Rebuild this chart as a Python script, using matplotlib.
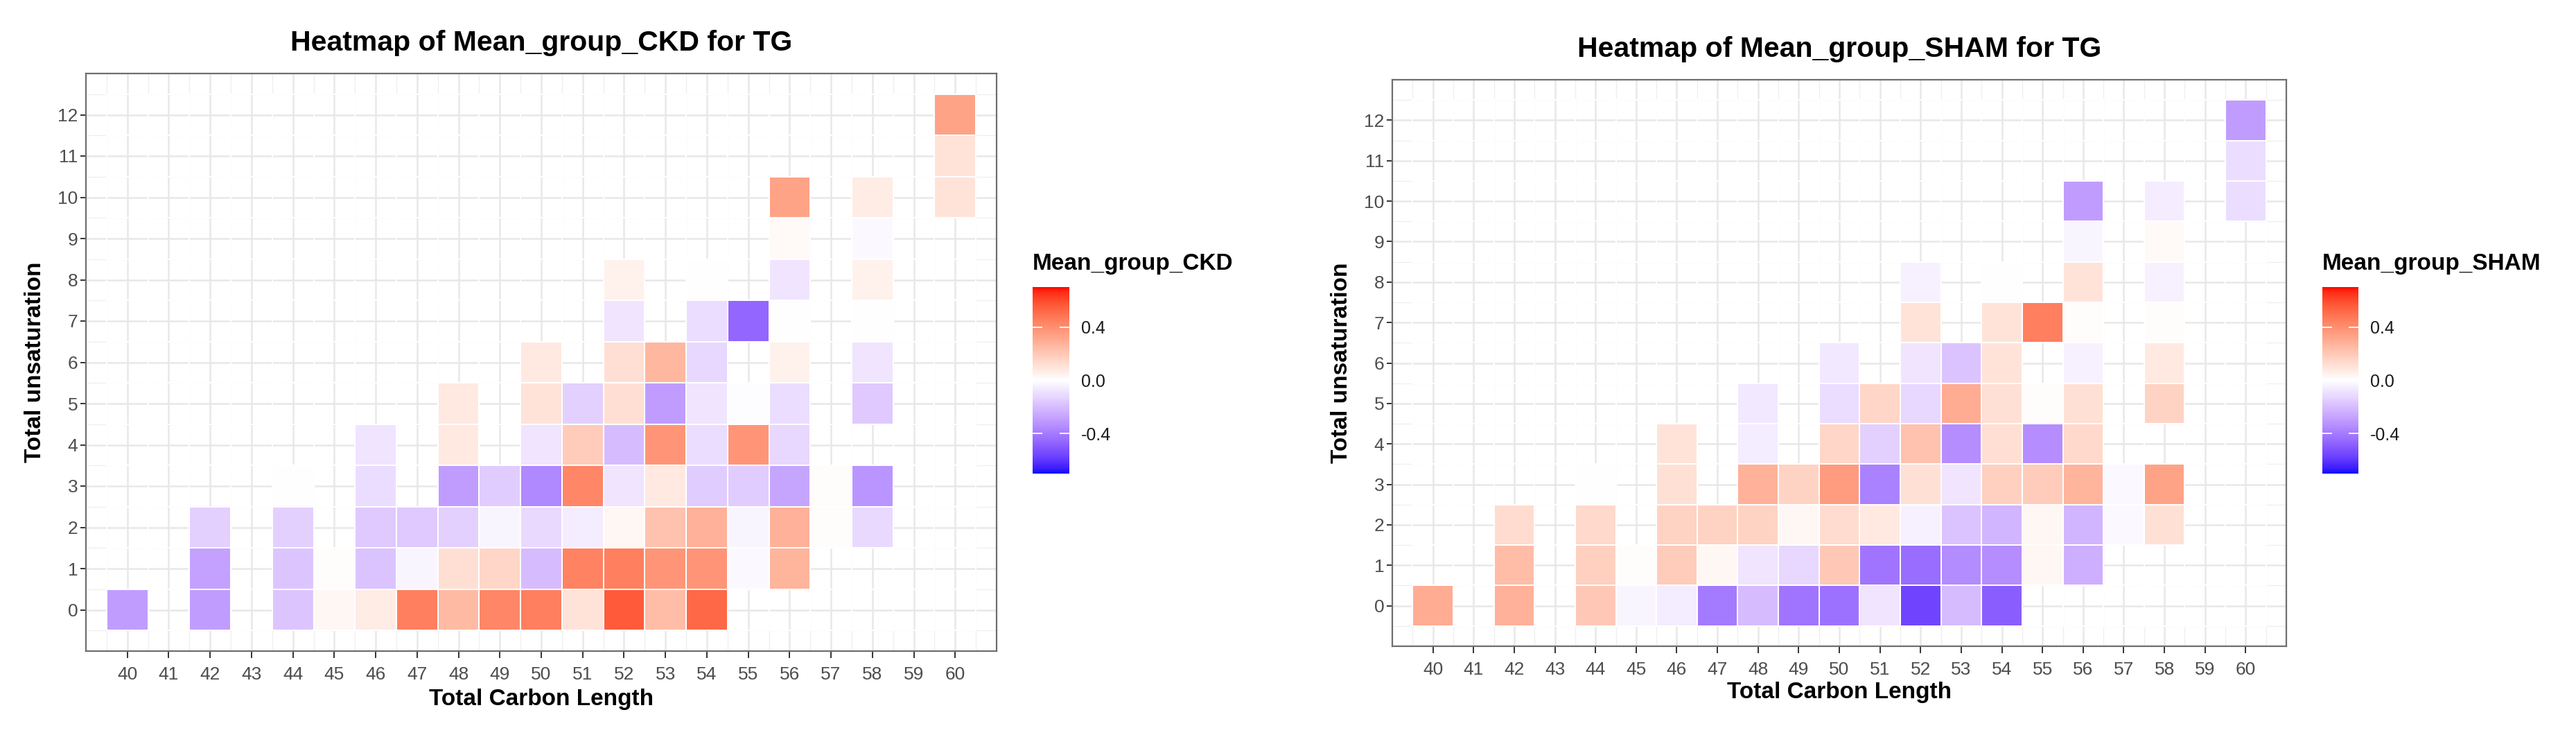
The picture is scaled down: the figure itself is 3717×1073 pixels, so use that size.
import numpy as np
import matplotlib
matplotlib.use("Agg")
import matplotlib.pyplot as plt
from matplotlib.colors import ListedColormap, Normalize


# TG species: total carbon length / total unsaturation, one entry per tile
carbon_length = [
    40, 42, 44, 45, 46, 47, 48, 49, 50, 51, 52, 53, 54,          # 0 double bonds
    42, 44, 45, 46, 47, 48, 49, 50, 51, 52, 53, 54, 55, 56,      # 1
    42, 44, 46, 47, 48, 49, 50, 51, 52, 53, 54, 55, 56, 57, 58,  # 2
    44, 46, 48, 49, 50, 51, 52, 53, 54, 55, 56, 57, 58,          # 3
    46, 48, 50, 51, 52, 53, 54, 55, 56,                          # 4
    48, 50, 51, 52, 53, 54, 55, 56, 58,                          # 5
    50, 52, 53, 54, 56, 58,                                      # 6
    52, 54, 55, 56, 58,                                          # 7
    52, 54, 56, 58,                                              # 8
    56, 58,                                                      # 9
    56, 58, 60,                                                  # 10
    60,                                                          # 11
    60,                                                          # 12
]
unsaturation = ([0] * 13 + [1] * 14 + [2] * 15 + [3] * 13 + [4] * 9 + [5] * 9
                + [6] * 6 + [7] * 5 + [8] * 4 + [9] * 2 + [10] * 3 + [11] + [12])

mean_group_ckd = [
    -0.30, -0.30, -0.17, 0.03, 0.07, 0.45, 0.25, 0.43, 0.45, 0.10, 0.56, 0.24, 0.52,
    -0.28, -0.17, 0.01, -0.18, -0.03, 0.12, 0.15, -0.20, 0.44, 0.45, 0.38, 0.38, -0.02, 0.27,
    -0.14, -0.14, -0.16, -0.16, -0.14, -0.03, -0.11, -0.06, 0.03, 0.22, 0.28, -0.03, 0.28, 0.01, -0.11,
    0.00, -0.10, -0.30, -0.15, -0.36, 0.43, -0.08, 0.08, -0.15, -0.15, -0.27, 0.01, -0.32,
    -0.08, 0.08, -0.08, 0.19, -0.20, 0.38, -0.10, 0.38, -0.12,
    0.08, 0.10, -0.14, 0.12, -0.30, -0.08, -0.01, -0.10, -0.16,
    0.08, 0.12, 0.26, -0.12, 0.05, -0.08,
    -0.08, -0.10, -0.46, 0.00, 0.00,
    0.05, 0.00, -0.08, 0.05,
    0.02, -0.02,
    0.33, 0.07, 0.10,
    0.10,
    0.33,
]
mean_group_sham = [
    0.30, 0.28, 0.20, -0.03, -0.06, -0.40, -0.20, -0.42, -0.43, -0.08, -0.56, -0.20, -0.49,
    0.24, 0.17, 0.01, 0.19, 0.03, -0.08, -0.12, 0.20, -0.42, -0.44, -0.35, -0.34, 0.03, -0.24,
    0.13, 0.14, 0.16, 0.16, 0.16, 0.03, 0.13, 0.08, -0.04, -0.18, -0.22, 0.03, -0.22, -0.02, 0.11,
    0.00, 0.11, 0.28, 0.16, 0.36, -0.38, 0.11, -0.08, 0.17, 0.19, 0.27, -0.02, 0.33,
    0.10, -0.06, 0.15, -0.14, 0.22, -0.34, 0.12, -0.34, 0.14,
    -0.07, -0.10, 0.15, -0.12, 0.30, 0.11, 0.01, 0.11, 0.16,
    -0.07, -0.08, -0.18, 0.10, -0.04, 0.08,
    0.10, 0.10, 0.45, 0.01, 0.01,
    -0.04, 0.00, 0.10, -0.04,
    -0.03, 0.02,
    -0.30, -0.05, -0.10,
    -0.10,
    -0.30,
]

x_ticks = list(range(40, 61))
y_ticks = list(range(0, 13))
legend_ticks = [-0.4, 0.0, 0.4]
scale_limit = 0.7


# ggplot-like blue - white - red gradient, interpolated in Lab space
M = np.array([[0.4124564, 0.3575761, 0.1804375],
              [0.2126729, 0.7151522, 0.0721750],
              [0.0193339, 0.1191920, 0.9503041]])
WHITE = np.array([0.95047, 1.0, 1.08883])


def to_lab(rgb):
    rgb = np.asarray(rgb, float)
    lin = np.where(rgb <= 0.04045, rgb / 12.92, ((rgb + 0.055) / 1.055) ** 2.4)
    t = (M @ lin) / WHITE
    f = np.where(t > (6 / 29) ** 3, np.cbrt(t), t / (3 * (6 / 29) ** 2) + 4 / 29)
    return np.array([116 * f[1] - 16, 500 * (f[0] - f[1]), 200 * (f[1] - f[2])])


def from_lab(lab):
    fy = (lab[0] + 16) / 116
    f = np.array([fy + lab[1] / 500, fy, fy - lab[2] / 200])
    t = np.where(f > 6 / 29, f ** 3, 3 * (6 / 29) ** 2 * (f - 4 / 29))
    lin = np.clip(np.linalg.inv(M) @ (t * WHITE), 0, 1)
    rgb = np.where(lin <= 0.0031308, 12.92 * lin, 1.055 * lin ** (1 / 2.4) - 0.055)
    return np.clip(rgb, 0, 1)


lab_blue, lab_white, lab_red = to_lab([0, 0, 1]), to_lab([1, 1, 1]), to_lab([1, 0, 0])
colors = []
for s in np.linspace(-1, 1, 256):
    end = lab_blue if s < 0 else lab_red
    colors.append(from_lab(lab_white + abs(s) * (end - lab_white)))
cmap = ListedColormap(colors)
norm = Normalize(-scale_limit, scale_limit)

plt.rcParams["font.family"] = ["Liberation Sans", "DejaVu Sans"]

W, H = 3717, 1073
fig = plt.figure(figsize=(W / 100, H / 100), dpi=100)


def box(x0, y0, x1, y1):
    return [x0 / W, 1 - y1 / H, (x1 - x0) / W, (y1 - y0) / H]


def draw_panel(values, name, ax_px, cbar_px, ylab_x, xlab_y):
    x0, y0, x1, y1 = ax_px
    ax = fig.add_axes(box(*ax_px))

    grid = np.full((len(y_ticks), len(x_ticks)), np.nan)
    for c, u, v in zip(carbon_length, unsaturation, values):
        grid[u - y_ticks[0], c - x_ticks[0]] = v
    xe = np.arange(x_ticks[0] - 0.5, x_ticks[-1] + 1)
    ye = np.arange(y_ticks[0] - 0.5, y_ticks[-1] + 1)
    mesh = ax.pcolormesh(xe, ye, np.ma.masked_invalid(grid), cmap=cmap, norm=norm,
                         edgecolors="white", linewidth=1.3, zorder=2)

    ax.set_xlim(39, 61)
    ax.set_ylim(-1, 13)
    ax.set_xticks(x_ticks)
    ax.set_yticks(y_ticks)
    ax.set_xticks(xe, minor=True)
    ax.set_yticks(ye, minor=True)
    ax.grid(which="major", color="#E8E8E8", linewidth=1.8, zorder=0)
    ax.grid(which="minor", color="#EFEFEF", linewidth=0.9, zorder=0)
    ax.set_axisbelow(True)
    ax.tick_params(which="minor", length=0)
    ax.tick_params(axis="x", which="major", length=7, width=1.4, color="#333333",
                   labelsize=19, labelcolor="#4D4D4D", pad=9)
    ax.tick_params(axis="y", which="major", length=6, width=1.4, color="#333333",
                   labelsize=19, labelcolor="#4D4D4D", pad=2.5)
    for sp in ax.spines.values():
        sp.set_color("#6E6E6E")
        sp.set_linewidth(1.6)

    cx = (x0 + x1) / 2
    fig.text(cx / W, 1 - (y0 - 44) / H, f"Heatmap of {name} for TG",
             ha="center", va="center", fontsize=29.5, fontweight="bold")
    fig.text(cx / W, 1 - xlab_y / H, "Total Carbon Length",
             ha="center", va="center", fontsize=24, fontweight="bold")
    fig.text(ylab_x / W, 1 - ((y0 + y1) / 2) / H, "Total unsaturation",
             ha="center", va="center", rotation=90, fontsize=24, fontweight="bold")

    # colour bar legend
    cax = fig.add_axes(box(*cbar_px))
    cb = fig.colorbar(mesh, cax=cax, ticks=legend_ticks)
    cb.outline.set_visible(False)
    cb.ax.set_yticklabels([f"{t:.1f}" for t in legend_ticks])
    cax.yaxis.set_ticks_position("both")
    cax.tick_params(direction="in", length=10, width=1.3, color="white",
                    labelsize=18, labelcolor="#1A1A1A", pad=12,
                    labelleft=False, labelright=True)
    fig.text(cbar_px[0] / W, 1 - (cbar_px[1] - 33) / H, name,
             ha="left", va="center", fontsize=24, fontweight="bold")


draw_panel(mean_group_ckd, "Mean_group_CKD", (124, 106, 1438, 939),
           (1490, 414, 1543, 683), ylab_x=51, xlab_y=1008)
draw_panel(mean_group_sham, "Mean_group_SHAM", (2009, 115, 3299, 932),
           (3351, 414, 3403, 683), ylab_x=1936, xlab_y=999)

plt.savefig("out.png", dpi=100)
